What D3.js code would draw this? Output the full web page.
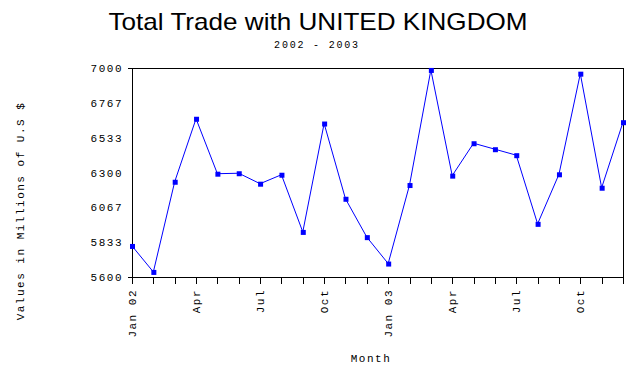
<!DOCTYPE html>
<html><head><meta charset="utf-8">
<script src="https://cdn.jsdelivr.net/npm/d3@7"></script>
<style>body{margin:0;background:#fff}svg{display:block}</style>
</head><body>
<svg id="c" width="636" height="370"></svg>
<script>
const months = ["Jan 02","Feb 02","Mar 02","Apr 02","May 02","Jun 02","Jul 02","Aug 02","Sep 02","Oct 02","Nov 02","Dec 02",
                "Jan 03","Feb 03","Mar 03","Apr 03","May 03","Jun 03","Jul 03","Aug 03","Sep 03","Oct 03","Nov 03","Dec 03"];
const tickMonthLabels = {"Jan 02":"Jan 02","Apr 02":"Apr","Jul 02":"Jul","Oct 02":"Oct","Jan 03":"Jan 03","Apr 03":"Apr","Jul 03":"Jul","Oct 03":"Oct"};
const values = [5808,5634,6238,6660,6292,6295,6225,6285,5902,6628,6124,5867,
                5690,6216,6987,6279,6496,6456,6416,5956,6288,6962,6198,6637];
const yTicks = [5600,5833,6067,6300,6533,6767,7000];
const yTickLabels = ["5600","5833","6067","6300","6533","6767","7000"];
const titleText = "Total Trade with UNITED KINGDOM";
const subtitleText = "2002 - 2003";
const xTitle = "Month";
const yTitle = "Values in Millions of U.S $";

const svg = d3.select("#c");
const L=132, R=623, T=68, B=277;
const x = d3.scalePoint().domain(months).range([L,R]);
const y = d3.scaleLinear().domain([5600,7000]).range([B,T]);
const mono = "'Liberation Mono', 'DejaVu Sans Mono', monospace";

// frame
svg.append("rect").attr("x",L+0.5).attr("y",T+0.5).attr("width",R-L).attr("height",B-T)
  .attr("fill","none").attr("stroke","#000").attr("stroke-width",1);
svg.append("line").attr("x1",L-4).attr("x2",L).attr("y1",T+0.5).attr("y2",T+0.5).attr("stroke","#000");
svg.append("line").attr("x1",L-4).attr("x2",L).attr("y1",B+0.5).attr("y2",B+0.5).attr("stroke","#000");

// y axis labels
yTicks.forEach((v,i)=>{
  svg.append("text").attr("x",L-9).attr("y",y(v)+4).attr("text-anchor","end")
    .attr("font-family",mono).attr("font-size",11).attr("letter-spacing",1.5)
    .text(yTickLabels[i]);
});

// x ticks
const xAxis = svg.append("g");
months.forEach(m=>{
  xAxis.append("line").attr("x1",Math.round(x(m))+0.5).attr("x2",Math.round(x(m))+0.5)
    .attr("y1",B).attr("y2",B+7).attr("stroke","#000");
  if (tickMonthLabels[m]) {
    xAxis.append("text")
      .attr("transform",`translate(${x(m)+4},${B+12}) rotate(-90)`)
      .attr("text-anchor","end")
      .attr("font-family",mono).attr("font-size",11).attr("letter-spacing",1.5)
      .text(tickMonthLabels[m]);
  }
});

// line
const line = d3.line().x((d,i)=>x(months[i])).y(d=>y(d));
svg.append("path").datum(values).attr("d",line).attr("fill","none")
  .attr("stroke","#0000ff").attr("stroke-width",1);
svg.selectAll("rect.pt").data(values).enter().append("rect").attr("class","pt")
  .attr("x",(d,i)=>x(months[i])-2).attr("y",d=>y(d)-2).attr("width",5).attr("height",5)
  .attr("fill","#0000ff");

// titles
svg.append("text").attr("x",318).attr("y",30).attr("text-anchor","middle")
  .attr("font-family","'Liberation Sans', Arial, sans-serif").attr("font-size",24)
  .attr("textLength",419).attr("lengthAdjust","spacingAndGlyphs").text(titleText);
svg.append("text").attr("x",317).attr("y",48).attr("text-anchor","middle")
  .attr("font-family",mono).attr("font-size",10).attr("letter-spacing",1.8).text(subtitleText);
svg.append("text").attr("x",371).attr("y",362).attr("text-anchor","middle")
  .attr("font-family",mono).attr("font-size",11).attr("letter-spacing",1.5).text(xTitle);
svg.append("text").attr("transform","translate(24,211) rotate(-90)").attr("text-anchor","middle")
  .attr("font-family",mono).attr("font-size",11).attr("letter-spacing",1.5).text(yTitle);
</script>
</body></html>
